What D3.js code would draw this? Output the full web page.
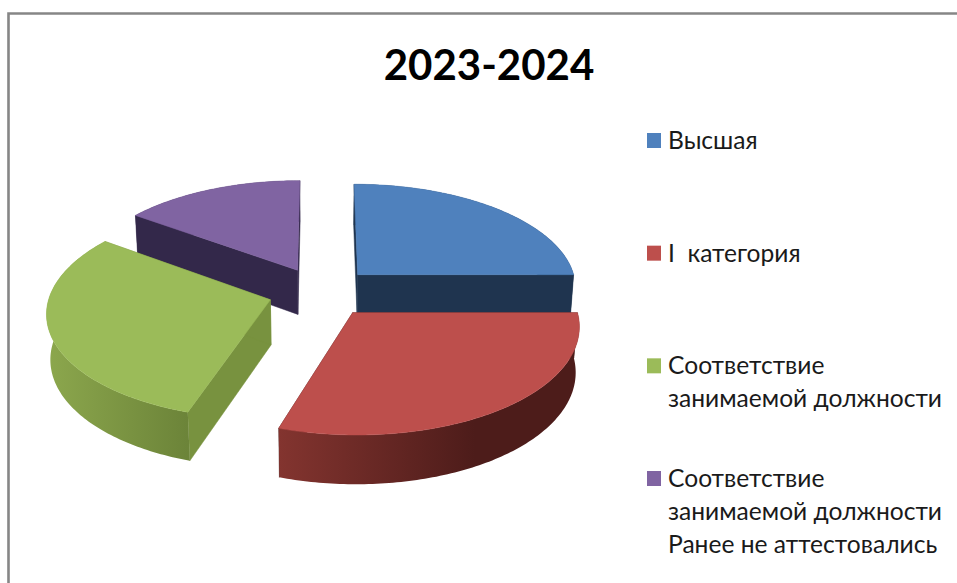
<!DOCTYPE html>
<html>
<head>
<meta charset="utf-8">
<title>2023-2024</title>
<script src="https://cdn.jsdelivr.net/npm/d3@7/dist/d3.min.js"></script>
<style>
    html, body {margin: 0; padding: 0; background: #fff;}
    svg {display: block;}
    text {font-family: Lato, "Open Sans", sans-serif; fill: #1a1a1a;}
</style>
</head>
<body>
<script>
//chart data
var title = "2023-2024";
var categories = ["Высшая", "I  категория", "Соответствие занимаемой должности", "Соответствие занимаемой должности Ранее не аттестовались"];
var values = [25, 30, 30, 15];
var legendLines = [
    ["Высшая"],
    ["I\u00a0\u00a0категория"],
    ["Соответствие", "занимаемой должности"],
    ["Соответствие", "занимаемой должности", "Ранее не аттестовались"]
];
var topColors = ["#4f81bd", "#bd4f4c", "#9bbb59", "#8064a2"];
var cutColors = ["#1f344f", "#4d1c1a", "#78923f", "#33284a"];
var wallStart = ["#1f344f", "#83342f", "#8ca74d", "#33284a"];
var wallEnd = ["#1f344f", "#4d1c1a", "#6c8439", "#33284a"];

window.onload = function(){

    var w = 957, h = 583;
    var svg = d3.select("body")
        .append("svg")
        .attr("width", w)
        .attr("height", h)
        .attr("class", "container");

    //chart frame, only the top and left edges are in the picture
    svg.append("path")
        .attr("class", "frame")
        .attr("d", "M8.5," + h + "V13.5H" + w)
        .style("fill", "none")
        .style("stroke", "#868686")
        .style("stroke-width", 2.6);

    svg.append("text")
        .attr("class", "title")
        .attr("text-anchor", "middle")
        .attr("x", 489)
        .attr("y", 80)
        .style("font-size", "42px")
        .style("font-weight", 700)
        .style("fill", "#000")
        .text(title);

    //3d pie: perspective settings
    var cx = 321, cy = 292, radius = 220, flat = 104, depth = 45.5;
    var persp = 0.11, shrink = 0.014, explode = 0.24;

    //u right, v towards the viewer, z down through the pie
    function project(u, v, z){
        var s = 1 / (1 - persp * v + shrink * z);
        return [cx + radius * u * s, cy + (flat * v + depth * z) * s];
    }

    var pie = d3.pie().sort(null).value(function(d){ return d; });
    var slices = pie(values).map(function(d, i){
        var mid = (d.startAngle + d.endAngle) / 2;
        return {
            index: i,
            start: d.startAngle,
            end: d.endAngle,
            u0: explode * Math.sin(mid), //exploded apex
            v0: -explode * Math.cos(mid)
        };
    });

    function rimPoint(s, a, z){
        return project(s.u0 + Math.sin(a), s.v0 - Math.cos(a), z);
    }
    function rim(s, z){
        var n = Math.ceil((s.end - s.start) * 60);
        return d3.range(n + 1).map(function(k){
            return rimPoint(s, s.start + (s.end - s.start) * k / n, z);
        });
    }

    var closed = d3.line().curve(d3.curveLinearClosed);

    //gradients for the outer wall
    var defs = svg.append("defs");
    slices.forEach(function(s){
        var xs = rim(s, 0).map(function(p){ return p[0]; });
        var grad = defs.append("linearGradient")
            .attr("id", "wall" + s.index)
            .attr("gradientUnits", "userSpaceOnUse")
            .attr("x1", d3.min(xs))
            //red goes dark about halfway across, green at its front corner
            .attr("x2", s.index == 1 ? d3.mean(xs) : rimPoint(s, s.start, 0)[0])
            .attr("y1", 0)
            .attr("y2", 0);
        grad.selectAll("stop")
            .data([0, 1])
            .enter()
            .append("stop")
            .attr("offset", function(d){ return d; })
            .attr("stop-color", function(d){
                return d == 0 ? wallStart[s.index] : wallEnd[s.index];
            });
    });

    //painter's order, back slices first
    var order = slices.slice().sort(function(a, b){ return a.v0 - b.v0; });

    var groups = svg.selectAll(".slice")
        .data(order)
        .enter()
        .append("g")
        .attr("class", "slice");

    //the two cut faces
    groups.selectAll(".cut")
        .data(function(s){
            return [s.start, s.end].map(function(a){ return {s: s, a: a}; });
        })
        .enter()
        .append("path")
        .attr("class", "cut")
        .attr("d", function(d){
            var s = d.s;
            return closed([
                project(s.u0, s.v0, 0),
                rimPoint(s, d.a, 0),
                rimPoint(s, d.a, 1),
                project(s.u0, s.v0, 1)
            ]);
        })
        .style("fill", function(d){ return cutColors[d.s.index]; })
        .style("stroke", function(d){ return cutColors[d.s.index]; })
        .style("stroke-width", 0.5);

    //outer wall
    groups.append("path")
        .attr("class", "wall")
        .attr("d", function(s){
            return closed(rim(s, 0).concat(rim(s, 1).reverse()));
        })
        .style("fill", function(s){ return "url(#wall" + s.index + ")"; });

    //top face
    groups.append("path")
        .attr("class", "top")
        .attr("d", function(s){
            return closed([project(s.u0, s.v0, 0)].concat(rim(s, 0)));
        })
        .style("fill", function(s){ return topColors[s.index]; })
        .style("stroke", function(s){ return topColors[s.index]; })
        .style("stroke-width", 0.5);

    //legend
    var legendY = d3.scaleLinear()
        .domain([0, categories.length - 1])
        .range([149, 487]);

    var legend = svg.selectAll(".legendItem")
        .data(categories)
        .enter()
        .append("g")
        .attr("class", "legendItem")
        .attr("transform", function(d, i){
            return "translate(0," + legendY(i) + ")";
        });

    legend.append("rect")
        .attr("x", 647)
        .attr("y", -16)
        .attr("width", 14)
        .attr("height", 15)
        .style("fill", function(d, i){ return topColors[i]; });

    legend.append("text")
        .attr("class", "legendLabel")
        .style("font-size", "24.6px")
        .selectAll("tspan")
        .data(function(d, i){ return legendLines[i]; })
        .enter()
        .append("tspan")
        .attr("x", 668)
        .attr("y", function(d, i){ return i * 33; })
        .text(function(d){ return d; });
};
</script>
</body>
</html>
